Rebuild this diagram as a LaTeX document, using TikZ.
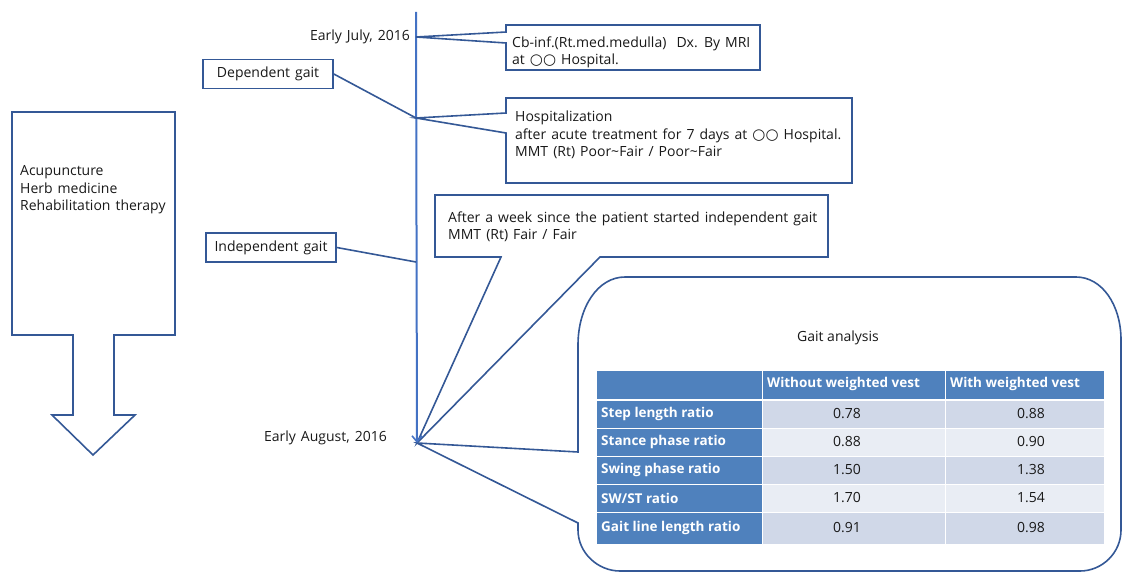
\documentclass[tikz,border=0pt]{standalone}
\usepackage{fontspec}
\setmainfont{Open Sans}
\newfontfamily\symfont{DejaVu Sans}
\usetikzlibrary{arrows.meta}
\definecolor{lineblue}{RGB}{52,88,150}
\definecolor{tlblue}{RGB}{68,114,196}
\definecolor{hdr}{RGB}{79,129,189}
\definecolor{rowA}{RGB}{208,216,232}
\definecolor{rowB}{RGB}{233,237,244}
\definecolor{txt}{RGB}{25,25,25}
\newcommand{\cc}{{\symfont\fontsize{15}{17}\selectfont ○○}}
\newcommand{\wsp}{\spaceskip=0.36em plus 0.1em minus 0.05em\relax}
\begin{document}
\begin{tikzpicture}[x=1pt,y=-1pt,
  outl/.style={draw=lineblue, line width=1.6pt, line join=miter},
  conn/.style={draw=lineblue, line width=1.6pt},
  tl/.style={draw=tlblue, line width=2pt},
  lbl/.style={font=\fontsize{14}{17.5}\selectfont\wsp, text=txt, inner sep=0pt, align=left},
  gbox/.style={draw=lineblue, line width=1.6pt, fill=white, minimum width=130pt, minimum height=29pt, inner sep=0pt, font=\fontsize{14}{17.5}\selectfont\wsp, text=txt},
  cellH/.style={fill=hdr, draw=white, line width=1pt, anchor=north west, inner sep=0pt},
  cellA/.style={fill=rowA, draw=white, line width=1pt, anchor=north west, inner sep=0pt},
  cellB/.style={fill=rowB, draw=white, line width=1pt, anchor=north west, inner sep=0pt},
  htxt/.style={font=\fontsize{13.5}{15}\selectfont\bfseries, text=white, inner sep=0pt, anchor=west},
  vtxt/.style={font=\fontsize{14}{15}\selectfont, text=txt, inner sep=0pt},
]
\useasboundingbox (0,0) rectangle (1124,572);

% ---- coordinates
\coordinate (tltop) at (416,12);
\coordinate (tlend) at (417,443);
\coordinate (tip1) at (416,37);
\coordinate (tip2) at (416,118);
\coordinate (tip3) at (416,262);

% ---- left arrow
\draw[outl] (12,112) -- (175,112) -- (175,335) -- (114,335) -- (114,415) -- (135,415)
  -- (93,455) -- (52,415) -- (73,415) -- (73,335) -- (12,335) -- cycle;
\node[lbl, anchor=base west] (therapy) at (20,211) {Acupuncture\\Herb medicine\\Rehabilitation therapy};

% ---- callout 3 (independent gait) pointer and box
\draw[outl, fill=white] (435,195) -- (828,195) -- (828,257) -- (600,257) -- (tlend) -- (501,257) -- (435,257) -- cycle;
\node[lbl, anchor=base west] (c3txt) at (448,240) {After a week since the patient started independent gait\\MMT (Rt) Fair / Fair};

% ---- rounded callout with table
\draw[outl, fill=white] (tlend) -- (578,452) -- (578,345)
  .. controls (578,307) and (598,277) .. (625,277) -- (1076,277)
  .. controls (1102,277) and (1121,305) .. (1121,340) -- (1121,530)
  .. controls (1121,553) and (1102,571) .. (1080,571) -- (620,571)
  .. controls (598,571) and (578,553) .. (578,530) -- (578,523) -- cycle;

% ---- timeline
\draw[tl, -{Straight Barb[length=6pt,width=10pt,line width=1.6pt]}] (tltop) -- (tlend);
\node[lbl, anchor=east] (july) at (410,37) {Early July, 2016};
\node[lbl, anchor=east] (aug) at (387,438) {Early August, 2016};

% ---- callout 1
\draw[outl, fill=white] (506,25) -- (760,25) -- (760,70) -- (506,70) -- (506,43) -- (tip1) -- (506,32) -- cycle;
\node[lbl, anchor=base west] (c1txt) at (512,65) {Cb-inf.(Rt.med.medulla)\ \ Dx. By MRI\\at \cc\ Hospital.};

% ---- callout 2
\draw[outl, fill=white] (506,98) -- (852,98) -- (852,183) -- (506,183) -- (506,133) -- (tip2) -- (506,113) -- cycle;
\node[lbl, anchor=base west] (c2txt) at (515,157) {Hospitalization\\after acute treatment for 7 days at \cc\ Hospital.\\MMT (Rt) Poor\textasciitilde Fair / Poor\textasciitilde Fair};

% ---- gait boxes
\node[gbox] (dep) at (268,74) {Dependent gait};
\node[gbox] (indep) at (271,247.5) {Independent gait};
\draw[conn] (dep.east) -- (tip2);
\draw[conn] (indep.east) -- (tip3);

% ---- table
\node[vtxt] (gtitle) at (838,338) {Gait analysis};
\node[cellH, minimum width=166pt, minimum height=30pt] (h0) at (596,370) {};
\node[cellH, minimum width=183pt, minimum height=30pt] (h1) at (762,370) {};
\node[cellH, minimum width=159pt, minimum height=30pt] (h2) at (945,370) {};
\node[htxt] (h1t) at (767,384) {Without weighted vest};
\node[htxt] (h2t) at (950,384) {With weighted vest};
\foreach \i/\y/\h/\st/\lab/\va/\vb in {
  1/400/28/cellA/Step length ratio/0.78/0.88,
  2/428/28/cellB/Stance phase ratio/0.88/0.90,
  3/456/28/cellA/Swing phase ratio/1.50/1.38,
  4/484/28/cellB/SW\slash ST ratio/1.70/1.54,
  5/512/32/cellA/Gait line length ratio/0.91/0.98} {
  \node[cellH, minimum width=166pt, minimum height=\h pt] (r\i c0) at (596,\y) {};
  \node[\st, minimum width=183pt, minimum height=\h pt] (r\i c1) at (762,\y) {};
  \node[\st, minimum width=159pt, minimum height=\h pt] (r\i c2) at (945,\y) {};
  \node[htxt] (r\i t0) at (601,\y+\h/2) {\lab};
  \node[vtxt] (r\i t1) at (847,\y+\h/2) {\va};
  \node[vtxt] (r\i t2) at (1031,\y+\h/2) {\vb};
}
\draw[white, line width=2pt] (596,400) -- (1104,400);
\end{tikzpicture}
\end{document}
